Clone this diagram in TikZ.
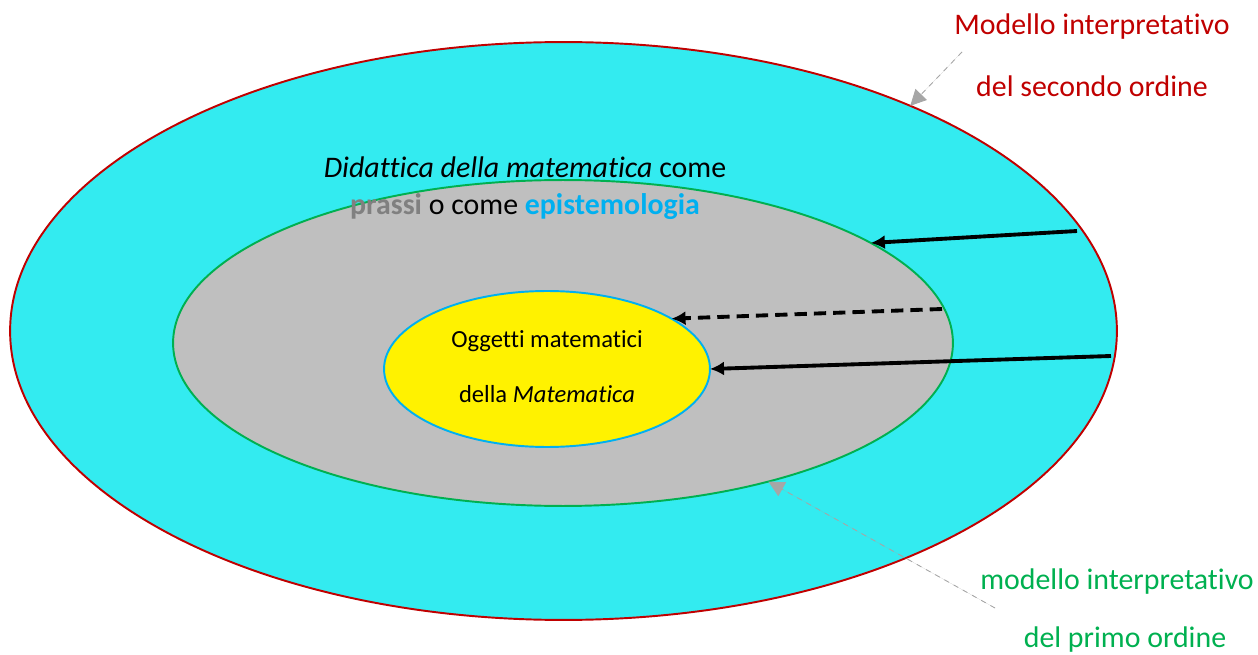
\documentclass[tikz,border=0pt]{standalone}
\usepackage{fontspec}
\setmainfont[Ligatures={NoCommon}]{Carlito}
\usepackage{tikz}
\usetikzlibrary{shapes.geometric, arrows.meta}
\definecolor{ciano}{RGB}{51,235,240}
\definecolor{grigio}{RGB}{191,191,191}
\definecolor{rosso}{RGB}{192,0,0}
\definecolor{verde}{RGB}{0,176,80}
\definecolor{azzurro}{RGB}{0,176,240}
\definecolor{grigioscuro}{RGB}{128,128,128}
\tikzset{
  livello/.style={ellipse, draw, inner sep=0pt, outer sep=0pt, line width=1.1pt},
  freccia/.style={-{Latex[length=8pt,width=8pt]}, line width=2.2pt},
  rinvio/.style={-{Triangle[length=9pt,width=9pt]}, draw=grigioscuro!70, fill=grigioscuro!70, dashed, line width=0.5pt},
}

\begin{document}
\begin{tikzpicture}[x=0.02cm, y=-0.02cm, font=\fontsize{17}{20}\selectfont]
				\useasboundingbox (0,0) rectangle (1258,655);
				%Ellissi
				\node[livello, draw=rosso, fill=ciano, minimum width=22.14cm, minimum height=11.56cm] (esterno) at (563.5,331) {};
				\node[livello, draw=verde, fill=grigio, minimum width=15.6cm, minimum height=6.52cm] (medio) at (563,343) {};
				\node[livello, draw=azzurro, fill=yellow, minimum width=6.52cm, minimum height=3.12cm] (interno) at (547,369) {};
				%Testi
				\node (did1) at (525,167) {\textit{Didattica della matematica} come};
				\node (did2) at (525,207) {\textbf{\textcolor{grigioscuro}{prassi}} o come \textbf{\textcolor{azzurro}{epistemologia}}};
				\node[font=\fontsize{14}{17}\selectfont] (ogg1) at (547,341) {Oggetti matematici};
				\node[font=\fontsize{14}{17}\selectfont] (ogg2) at (547,394) {della \textit{Matematica}};
				\node[text=rosso] (sec1) at (1092,27) {Modello interpretativo};
				\node[text=rosso] (sec2) at (1092,86) {del secondo ordine};
				\node[text=verde] (pri1) at (1117,582) {modello interpretativo};
				\node[text=verde] (pri2) at (1125,640) {del primo ordine};
				%Frecce
				\coordinate (a1) at (1077,231);
				\coordinate (a2) at (942,309);
				\coordinate (a3) at (1111,356);
				\draw[freccia] (a1) -- (medio.18);
				\draw[freccia, dash pattern=on 7pt off 4pt] (a2) -- (interno.22.5);
				\draw[freccia] (a3) -- (interno.east);
				\coordinate (r1) at (962,52);
				\coordinate (r2) at (995,608);
				\draw[rinvio] (r1) -- (esterno.33.8);
				\draw[rinvio] (r2) -- (medio.-34.6);
			\end{tikzpicture}
\end{document}
